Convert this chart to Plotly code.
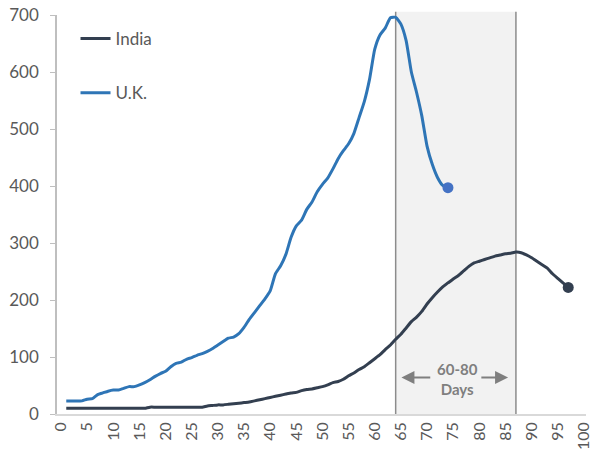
import plotly.graph_objects as go

# ---- data ----
uk_days = list(range(1, 75))
uk_values = [23, 23, 23, 23, 26, 27, 34, 37, 40, 42,
             42, 45, 48, 48, 51, 55, 60, 66, 71, 75,
             83, 89, 91, 96, 99, 103, 106, 110, 115, 121,
             127, 133, 135, 141, 152, 166, 178, 190, 202, 216,
             246, 260, 280, 310, 330, 340, 359, 372, 390, 403,
             414, 430, 448, 462, 474, 492, 520, 548, 587, 640,
             665, 677, 695, 696, 684, 655, 600, 564, 523, 470,
             438, 415, 401, 397]

india_days = list(range(1, 98))
india_values = [10, 10, 10, 10, 10, 10, 10, 10, 10, 10,
                10, 10, 10, 10, 10, 10, 12, 12, 12, 12,
                12, 12, 12, 12, 12, 12, 12, 14, 15, 16,
                16, 17, 18, 19, 20, 21, 23, 25, 27, 29,
                31, 33, 35, 37, 38, 41, 43, 44, 46, 48,
                51, 55, 57, 61, 67, 72, 78, 83, 90, 97,
                104, 113, 121, 131, 140, 151, 162, 170, 180, 193,
                204, 214, 223, 230, 237, 243, 251, 259, 265, 268,
                271, 274, 277, 279, 281, 282, 284, 283, 279, 274,
                268, 262, 256, 246, 238, 230, 222]

x_ticks = list(range(0, 101, 5))
y_ticks = [0, 100, 200, 300, 400, 500, 600, 700]
window_start, window_end = 64, 87
window_label = "<b>60-80</b><br><b>Days</b>"

INDIA_C = "#333F50"
UK_C = "#2E75B6"
UK_DOT = "#4472C4"
GREY_TXT = "#595959"
FONT = "Lato"

fig = go.Figure()

fig.add_trace(go.Scatter(x=india_days, y=india_values, mode="lines", name="India",
                         line=dict(color=INDIA_C, width=3, shape="spline", smoothing=0.5),
                         legendgroup="a"))
fig.add_trace(go.Scatter(x=uk_days, y=uk_values, mode="lines", name="U.K.",
                         line=dict(color=UK_C, width=3, shape="spline", smoothing=0.5),
                         legendgroup="b"))
fig.add_trace(go.Scatter(x=[india_days[-1]], y=[india_values[-1]], mode="markers",
                         marker=dict(color=INDIA_C, size=11), showlegend=False))
fig.add_trace(go.Scatter(x=[uk_days[-1]], y=[uk_values[-1]], mode="markers",
                         marker=dict(color=UK_DOT, size=11), showlegend=False))

# shaded window
fig.add_shape(type="rect", xref="x", yref="paper", x0=window_start, x1=window_end,
              y0=0, y1=1.008, fillcolor="#F2F2F2", line=dict(width=0), layer="below")
for xv in (window_start, window_end):
    fig.add_shape(type="line", xref="x", yref="paper", x0=xv, x1=xv, y0=0, y1=1.008,
                  line=dict(color="#8C8C8C", width=1.5), layer="below")

ARROW_C = "#7F7F7F"
fig.add_annotation(x=65.1, y=64, ax=70.9, ay=64, xref="x", yref="y", axref="x", ayref="y",
                   text="", showarrow=True, arrowhead=2, arrowsize=1.3, arrowwidth=2,
                   arrowcolor=ARROW_C)
fig.add_annotation(x=85.5, y=64, ax=80.1, ay=64, xref="x", yref="y", axref="x", ayref="y",
                   text="", showarrow=True, arrowhead=2, arrowsize=1.3, arrowwidth=2,
                   arrowcolor=ARROW_C)
fig.add_annotation(x=75.8, y=62, xref="x", yref="y", text=window_label, showarrow=False,
                   font=dict(family=FONT, size=15, color=ARROW_C))

fig.update_layout(
    width=591, height=453,
    margin=dict(l=57, r=5, t=15, b=39),
    plot_bgcolor="white", paper_bgcolor="white",
    font=dict(family=FONT, size=16, color=GREY_TXT),
    showlegend=True,
    legend=dict(x=0.035, y=0.985, xanchor="left", yanchor="top",
                bgcolor="rgba(0,0,0,0)", tracegroupgap=29,
                font=dict(family=FONT, size=17, color=GREY_TXT)),
    xaxis=dict(range=[-0.77, 100.4], tickmode="array", tickvals=x_ticks,
               ticktext=[str(v) for v in x_ticks], tickangle=-90,
               showgrid=False, zeroline=False, showline=True,
               linecolor="#D9D9D9", linewidth=1.5, ticks="", automargin=False,
               ticklabeloverflow="allow",
               tickfont=dict(family=FONT, size=16, color=GREY_TXT)),
    yaxis=dict(range=[0, 700], tickmode="array", tickvals=y_ticks,
               showgrid=False, zeroline=False, showline=True,
               linecolor="#BFBFBF", linewidth=1.5, ticks="outside", ticklen=5,
               tickcolor="#BFBFBF", automargin=False, ticklabelstandoff=8,
               tickfont=dict(family=FONT, size=17, color=GREY_TXT)),
)

fig.write_html("out.html", config={"displayModeBar": False},
               post_script="document.body.style.margin='0';document.body.style.overflow='hidden';")
